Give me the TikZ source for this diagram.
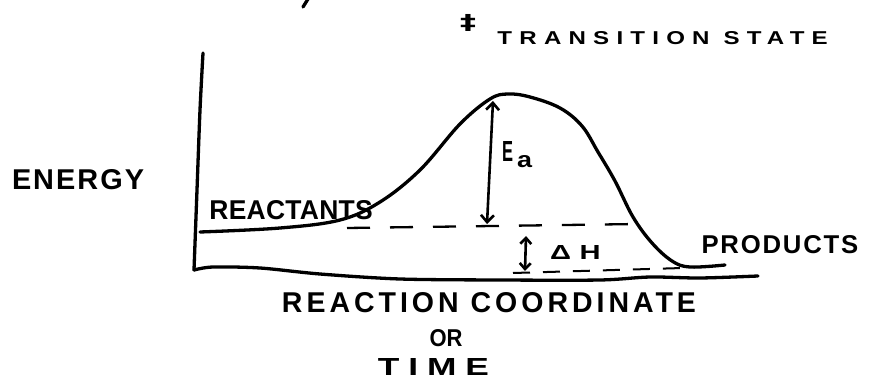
\documentclass[tikz,border=0pt]{standalone}
\usepackage{fontspec}
\setmainfont{Liberation Sans}
\usepackage{graphicx}
\usetikzlibrary{arrows.meta}
\newcommand\hw[4]{\resizebox{#1pt}{#2pt}{\bfseries\addfontfeature{LetterSpace=#3}#4\kern-#3\dimexpr0.01em\relax}}
\begin{document}
\begin{tikzpicture}[x=1pt,y=-1pt,
  ink/.style={line width=3.3pt, line cap=round, line join=round},
  arrowink/.style={line width=2.6pt, line cap=round},
  dashupper/.style={line width=2.3pt, dash pattern=on 23pt off 20pt},
  dashlower/.style={line width=2pt, dash pattern=on 17pt off 13pt},
  lbl/.style={inner sep=0pt, outer sep=0pt}
]
\fill[white] (0,0) rectangle (870,379);
\useasboundingbox (0,0) rectangle (870,379);

% small stroke at top
\coordinate (s1) at (303,7);
\coordinate (s2) at (308,-1);
\draw[ink] (s1) -- (s2);

% axes
\draw[ink] plot[smooth, tension=0.5] coordinates {(203,53) (200,110) (197,190) (194,270)};
\draw[ink] plot[smooth, tension=0.5] coordinates {(194,270) (213,267) (260,268) (320,274) (400,279) (500,280) (600,280) (650,277) (700,278) (758,276)};

% energy curve
\draw[ink] plot[smooth, tension=0.6] coordinates {(200,232) (280,228) (340,220) (380,202) (420,170) (460,124) (490,99) (508,94) (530,97) (560,108) (582,126) (598,152) (615,181) (633,217) (652,243) (672,261) (690,267) (725,265)};

% dashed levels
\coordinate (ul) at (347,228);
\coordinate (ur) at (638,224);
\draw[dashupper] (ul) -- (ur);
\coordinate (ll) at (513,273);
\coordinate (lr) at (683,268);
\draw[dashlower] (ll) -- (lr);

% Ea arrow
\coordinate (eatop) at (493,101);
\coordinate (eabot) at (487,224);
\draw[arrowink, {Straight Barb[length=7pt,width=13pt]}-{Straight Barb[length=7pt,width=13pt]}] (eatop) -- (eabot);

% Delta H arrow
\coordinate (dhtop) at (526,236);
\coordinate (dhbot) at (525,271);
\draw[arrowink, {Straight Barb[length=6pt,width=11pt]}-{Straight Barb[length=6pt,width=11pt]}] (dhtop) -- (dhbot);

% labels
\node[lbl] (dd) at (468,23) {\resizebox*{16pt}{17pt}{\fontspec{DejaVu Sans Bold}‡}};
\node[lbl] (ts) at (659,38) {\hw{323}{13}{30}{TRANSITION STATE}};
\node[lbl] (energy) at (77,180) {\hw{130}{20}{7}{ENERGY}};
\node[lbl] (reac) at (291,210) {\hw{163}{19}{1}{REACTANTS}};
\node[lbl, anchor=base west] (ea) at (502,162) {\resizebox{11pt}{20pt}{\bfseries E}\kern4pt\raisebox{-6pt}{\resizebox{15pt}{12pt}{\bfseries a}}};
\node[lbl] (dh) at (571,253) {\hw{42}{14}{30}{ΔH}};
\node[lbl] (prod) at (779,245) {\hw{155}{18}{7}{PRODUCTS}};
\node[lbl] (rc) at (487,303) {\hw{410}{20}{14}{REACTION COORDINATE}};
\node[lbl] (or) at (446,338) {\hw{33}{17}{0}{OR}};
\node[lbl] (time) at (429,367) {\hw{102}{17}{25}{TIME}};
\end{tikzpicture}
\end{document}
